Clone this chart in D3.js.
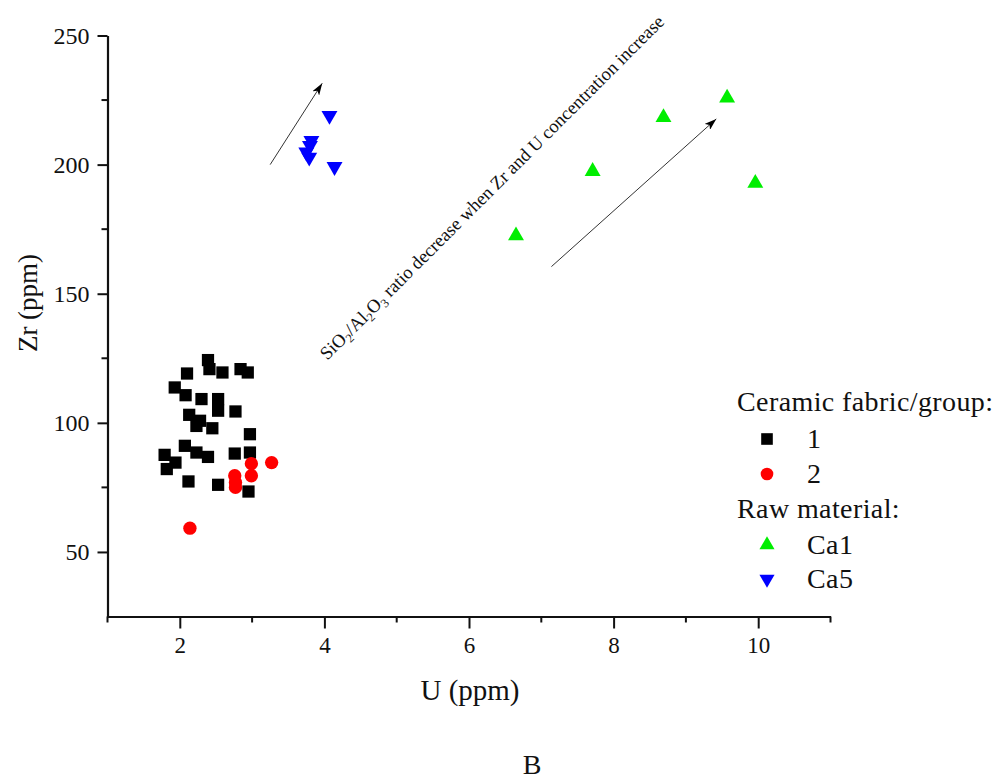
<!DOCTYPE html>
<html>
<head>
<meta charset="utf-8">
<script src="https://cdn.jsdelivr.net/npm/d3@7"></script>
<style>
  body { margin: 0; background: #fff; }
  text { font-family: "Liberation Serif", serif; fill: #111; }
</style>
</head>
<body>
<div id="chart-area"></div>
<script>
// Zr vs U scatter, ceramic fabrics and raw materials

// data: [U ppm, Zr ppm]
const fabric1 = [
  [2.39, 124.3], [2.41, 120.8], [2.10, 119.1], [2.59, 119.5], [2.84, 120.8],
  [2.94, 119.5], [1.93, 113.7], [2.08, 110.7], [2.30, 109.2], [2.53, 109.2],
  [2.53, 104.7], [2.77, 104.4], [2.13, 103.1], [2.28, 100.8], [2.23, 98.8],
  [2.45, 97.9], [2.97, 95.6], [2.07, 91.1], [2.23, 88.5], [2.39, 86.8],
  [2.76, 88.1], [2.97, 88.5], [1.79, 87.6], [1.94, 84.6], [1.82, 82.1],
  [2.12, 77.3], [2.53, 76.0], [2.95, 73.4]
]
const fabric2 = [
  [2.99, 84.2], [3.27, 84.6], [2.99, 79.5], [2.76, 79.5], [2.77, 76.9],
  [2.77, 75.0], [2.14, 59.2]
]
const rawCa1 = [
  [9.57, 225.8], [8.69, 218.3], [7.71, 197.4], [9.96, 192.8], [6.65, 172.5]
]
const rawCa5 = [
  [4.07, 219.0], [3.82, 209.3], [3.80, 207.4], [3.75, 204.8], [3.79, 202.8], [4.14, 199.2]
]

// trend arrows: [from, to] in data units
const arrows = [
  [[3.25, 200.0], [3.97, 231.5]],
  [[7.14, 160.5], [9.42, 217.7]]
]

const xMajorTicks = [2, 4, 6, 8, 10]
const xMinorTicks = [1, 3, 5, 7, 9, 11]
const yMajorTicks = [50, 100, 150, 200, 250]
const yMinorTicks = [75, 125, 175, 225]

const WIDTH = 1003
const HEIGHT = 780

const svg = d3.select("#chart-area").append("svg")
  .attr("width", WIDTH)
  .attr("height", HEIGHT)

// Scales
const x = d3.scaleLinear()
  .domain([1, 11])
  .range([107.5, 830.5])

const y = d3.scaleLinear()
  .domain([25, 250])
  .range([616.5, 35.5])

// arrow head
svg.append("defs").append("marker")
  .attr("id", "head")
  .attr("viewBox", "0 0 12 8")
  .attr("refX", 12)
  .attr("refY", 4)
  .attr("markerWidth", 12)
  .attr("markerHeight", 8)
  .attr("markerUnits", "userSpaceOnUse")
  .attr("orient", "auto")
  .append("path")
  .attr("d", "M0,0 L12,4 L0,8 L3,4 Z")
  .attr("fill", "#000")

// X Axis
const xAxisCall = d3.axisBottom(x)
  .tickValues(xMajorTicks)
  .tickSize(12)
  .tickSizeOuter(0)
  .tickPadding(8)
const xAxis = svg.append("g")
  .attr("transform", `translate(0, ${y(25)})`)
  .call(xAxisCall)
xAxis.select(".domain").attr("stroke-width", 2.2).attr("stroke", "#111")
xAxis.selectAll(".tick line").attr("stroke-width", 2).attr("stroke", "#111")
xAxis.selectAll(".tick text")
  .style("font-family", "Liberation Serif")
  .style("font-size", "23px")
  .attr("fill", "#111")
xAxis.selectAll(".minor")
  .data(xMinorTicks)
  .enter().append("line")
  .attr("x1", d => x(d)).attr("x2", d => x(d))
  .attr("y1", 0).attr("y2", 6)
  .attr("stroke", "#111").attr("stroke-width", 2)

// Y Axis
const yAxisCall = d3.axisLeft(y)
  .tickValues(yMajorTicks)
  .tickSize(10)
  .tickSizeOuter(0)
  .tickPadding(8)
const yAxis = svg.append("g")
  .attr("transform", `translate(${x(1)}, 0)`)
  .call(yAxisCall)
yAxis.select(".domain").attr("stroke-width", 2.2).attr("stroke", "#111")
yAxis.selectAll(".tick line").attr("stroke-width", 2).attr("stroke", "#111")
yAxis.selectAll(".tick text")
  .style("font-family", "Liberation Serif")
  .style("font-size", "24px")
  .attr("fill", "#111")
yAxis.selectAll(".minor")
  .data(yMinorTicks)
  .enter().append("line")
  .attr("x1", 0).attr("x2", -6)
  .attr("y1", d => y(d)).attr("y2", d => y(d))
  .attr("stroke", "#111").attr("stroke-width", 2)

// Labels
svg.append("text")
  .attr("x", 470)
  .attr("y", 700)
  .attr("font-size", "29px")
  .attr("text-anchor", "middle")
  .text("U (ppm)")

svg.append("text")
  .attr("transform", "translate(37, 303) rotate(-90)")
  .attr("font-size", "27px")
  .attr("text-anchor", "middle")
  .text("Zr (ppm)")

svg.append("text")
  .attr("x", 532)
  .attr("y", 774)
  .attr("font-size", "28px")
  .attr("text-anchor", "middle")
  .text("B")

// annotation
const note = svg.append("text")
  .attr("transform", `translate(${x(4.04)}, ${y(124.0)}) rotate(-45)`)
  .attr("font-size", "18.5px")
note.append("tspan").text("SiO")
note.append("tspan").attr("dy", 4).attr("font-size", "12.5px").text("2")
note.append("tspan").attr("dy", -4).text("/Al")
note.append("tspan").attr("dy", 4).attr("font-size", "12.5px").text("2")
note.append("tspan").attr("dy", -4).text("O")
note.append("tspan").attr("dy", 4).attr("font-size", "12.5px").text("3")
note.append("tspan").attr("dy", -4).text(" ratio decrease when Zr and U concentration increase")

svg.selectAll(".arrow")
  .data(arrows)
  .enter().append("line")
  .attr("class", "arrow")
  .attr("x1", d => x(d[0][0]))
  .attr("y1", d => y(d[0][1]))
  .attr("x2", d => x(d[1][0]))
  .attr("y2", d => y(d[1][1]))
  .attr("stroke", "#333")
  .attr("stroke-width", 1)
  .attr("marker-end", "url(#head)")

// points
const series = [
  { data: fabric1, type: d3.symbolSquare, size: 150, color: "#000000", rot: 0 },
  { data: fabric2, type: d3.symbolCircle, size: 140, color: "#ff0000", rot: 0 },
  { data: rawCa1, type: d3.symbolTriangle, size: 110, color: "#00ee00", rot: 0 },
  { data: rawCa5, type: d3.symbolTriangle, size: 110, color: "#0000ff", rot: 180 }
]

series.forEach(s => {
  svg.append("g").selectAll("path")
    .data(s.data)
    .enter().append("path")
    .attr("d", d3.symbol().type(s.type).size(s.size))
    .attr("transform", d => `translate(${x(d[0])}, ${y(d[1])}) rotate(${s.rot})`)
    .attr("fill", s.color)
})

// legend
const legend = svg.append("g")
  .attr("transform", "translate(737, 0)")

legend.append("text").attr("x", 0).attr("y", 411).attr("font-size", "28px")
  .attr("letter-spacing", "0.4px").text("Ceramic fabric/group:")
legend.append("text").attr("x", 0).attr("y", 518).attr("font-size", "28px")
  .attr("letter-spacing", "0.4px").text("Raw material:")

const legendItems = [
  { label: "1", s: series[0], yPos: 439 },
  { label: "2", s: series[1], yPos: 474 },
  { label: "Ca1", s: series[2], yPos: 545 },
  { label: "Ca5", s: series[3], yPos: 579 }
]

legendItems.forEach(it => {
  legend.append("path")
    .attr("d", d3.symbol().type(it.s.type).size(it.s.size * 0.9))
    .attr("transform", `translate(30, ${it.yPos}) rotate(${it.s.rot})`)
    .attr("fill", it.s.color)
  legend.append("text")
    .attr("x", 70)
    .attr("y", it.yPos + 9)
    .attr("font-size", "28px")
    .attr("letter-spacing", "0.4px")
    .text(it.label)
})
</script>
</body>
</html>
